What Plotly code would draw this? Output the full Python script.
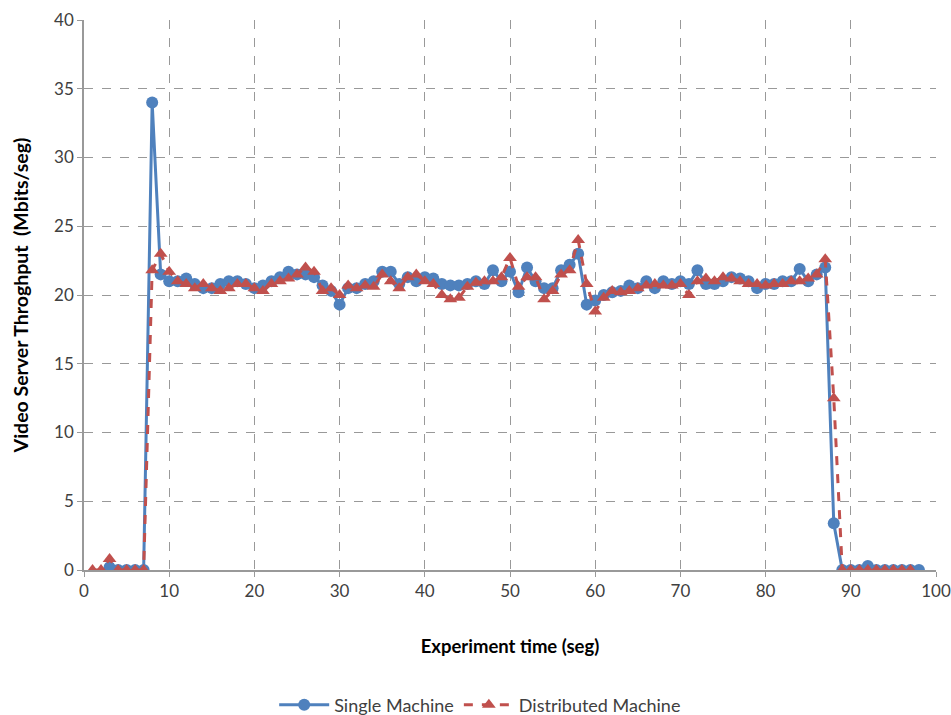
import plotly.graph_objects as go

# Single Machine (t = 3..98)
single_t = list(range(3, 99))
single_v = [0.2, 0, 0, 0, 0,
            34, 21.5, 21, 21, 21.2, 20.8, 20.5, 20.5, 20.8, 21, 21, 20.8, 20.5,
            20.7, 21, 21.3, 21.7, 21.5, 21.5, 21.3, 20.7, 20.3, 19.3, 20.5, 20.5,
            20.8, 21, 21.7, 21.7, 20.8, 21.3, 21, 21.3, 21.2, 20.8, 20.7, 20.7,
            20.8, 21, 20.8, 21.8, 21, 21.7, 20.2, 22, 21, 20.5, 20.5, 21.8, 22.2,
            23, 19.3, 19.6, 20, 20.2, 20.3, 20.7, 20.5, 21, 20.5, 21, 20.8, 21,
            20.8, 21.8, 20.8, 20.8, 21, 21.3, 21.2, 21, 20.5, 20.8, 20.8, 21, 21,
            21.9, 21, 21.5, 22, 3.4, 0, 0, 0, 0.3, 0, 0, 0, 0, 0, 0]

# Distributed Machine (t = 1..97)
dist_t = list(range(1, 98))
dist_v = [0, 0, 0.8, 0, 0, 0, 0,
          21.8, 23, 21.7, 21, 20.8, 20.5, 20.8, 20.5, 20.3, 20.5, 20.8, 20.8,
          20.5, 20.3, 20.8, 21, 21.2, 21.5, 22, 21.7, 20.3, 20.5, 20, 20.7, 20.5,
          20.7, 20.6, 21.5, 21, 20.5, 21.3, 21.5, 21, 20.8, 20, 19.7, 19.8, 20.6,
          20.9, 21, 21, 21.3, 22.7, 20.6, 21.3, 21.3, 19.7, 20.3, 21.5, 21.8, 24,
          20.8, 18.8, 19.8, 20.3, 20.2, 20.3, 20.5, 20.7, 20.8, 20.7, 20.7, 20.8,
          20, 21, 21.2, 21, 21.3, 21.2, 21, 20.8, 20.8, 20.7, 20.8, 20.8, 21, 21,
          21.2, 21.5, 22.6, 12.5, 0, 0, 0, 0, 0, 0, 0, 0, 0]

x_ticks = list(range(0, 101, 10))
y_ticks = list(range(0, 41, 5))

BLUE = "#4F81BD"
RED = "#C0504D"
FONT = "Lato"

fig = go.Figure()
fig.add_trace(go.Scatter(
    x=single_t, y=single_v, mode="lines+markers", name="Single Machine",
    line=dict(color=BLUE, width=3),
    marker=dict(symbol="circle", size=12, color=BLUE),
))
fig.add_trace(go.Scatter(
    x=dist_t, y=dist_v, mode="lines+markers", name="Distributed Machine",
    line=dict(color=RED, width=3, dash="dash"),
    marker=dict(symbol="triangle-up", size=12, color=RED),
))

fig.update_layout(
    width=951, height=715,
    margin=dict(l=84, r=15, t=20, b=145, autoexpand=False),
    paper_bgcolor="white", plot_bgcolor="white",
    font=dict(family=FONT, size=17, color="#404040"),
    showlegend=True,
    legend=dict(orientation="h", x=0.465, xref="paper", xanchor="center",
                yref="container", y=0.014, yanchor="middle",
                font=dict(size=18, color="#404040"),
                itemwidth=50),
)
fig.update_xaxes(
    range=[0, 100], tickvals=x_ticks, ticktext=[str(v) for v in x_ticks],
    showgrid=True, gridcolor="#999999", griddash="dash", gridwidth=1,
    showline=True, linecolor="#999999", linewidth=1.5,
    ticks="outside", ticklen=5, tickcolor="#999999",
    zeroline=False, automargin=False,
    title=dict(text="<b>Experiment time (seg)</b>", font=dict(size=18.5, color="#000000"),
               standoff=40),
)
fig.update_yaxes(
    range=[0, 40], tickvals=y_ticks, ticktext=[str(v) for v in y_ticks],
    showgrid=True, gridcolor="#999999", griddash="dash", gridwidth=1,
    showline=True, linecolor="#999999", linewidth=1.5,
    ticks="outside", ticklen=5, tickcolor="#999999",
    zeroline=False, automargin=False,
    title=dict(text="<b>Video Server Throghput  (Mbits/seg)</b>",
               font=dict(size=19.5, color="#000000"), standoff=20),
)

fig.write_html("out.html")
